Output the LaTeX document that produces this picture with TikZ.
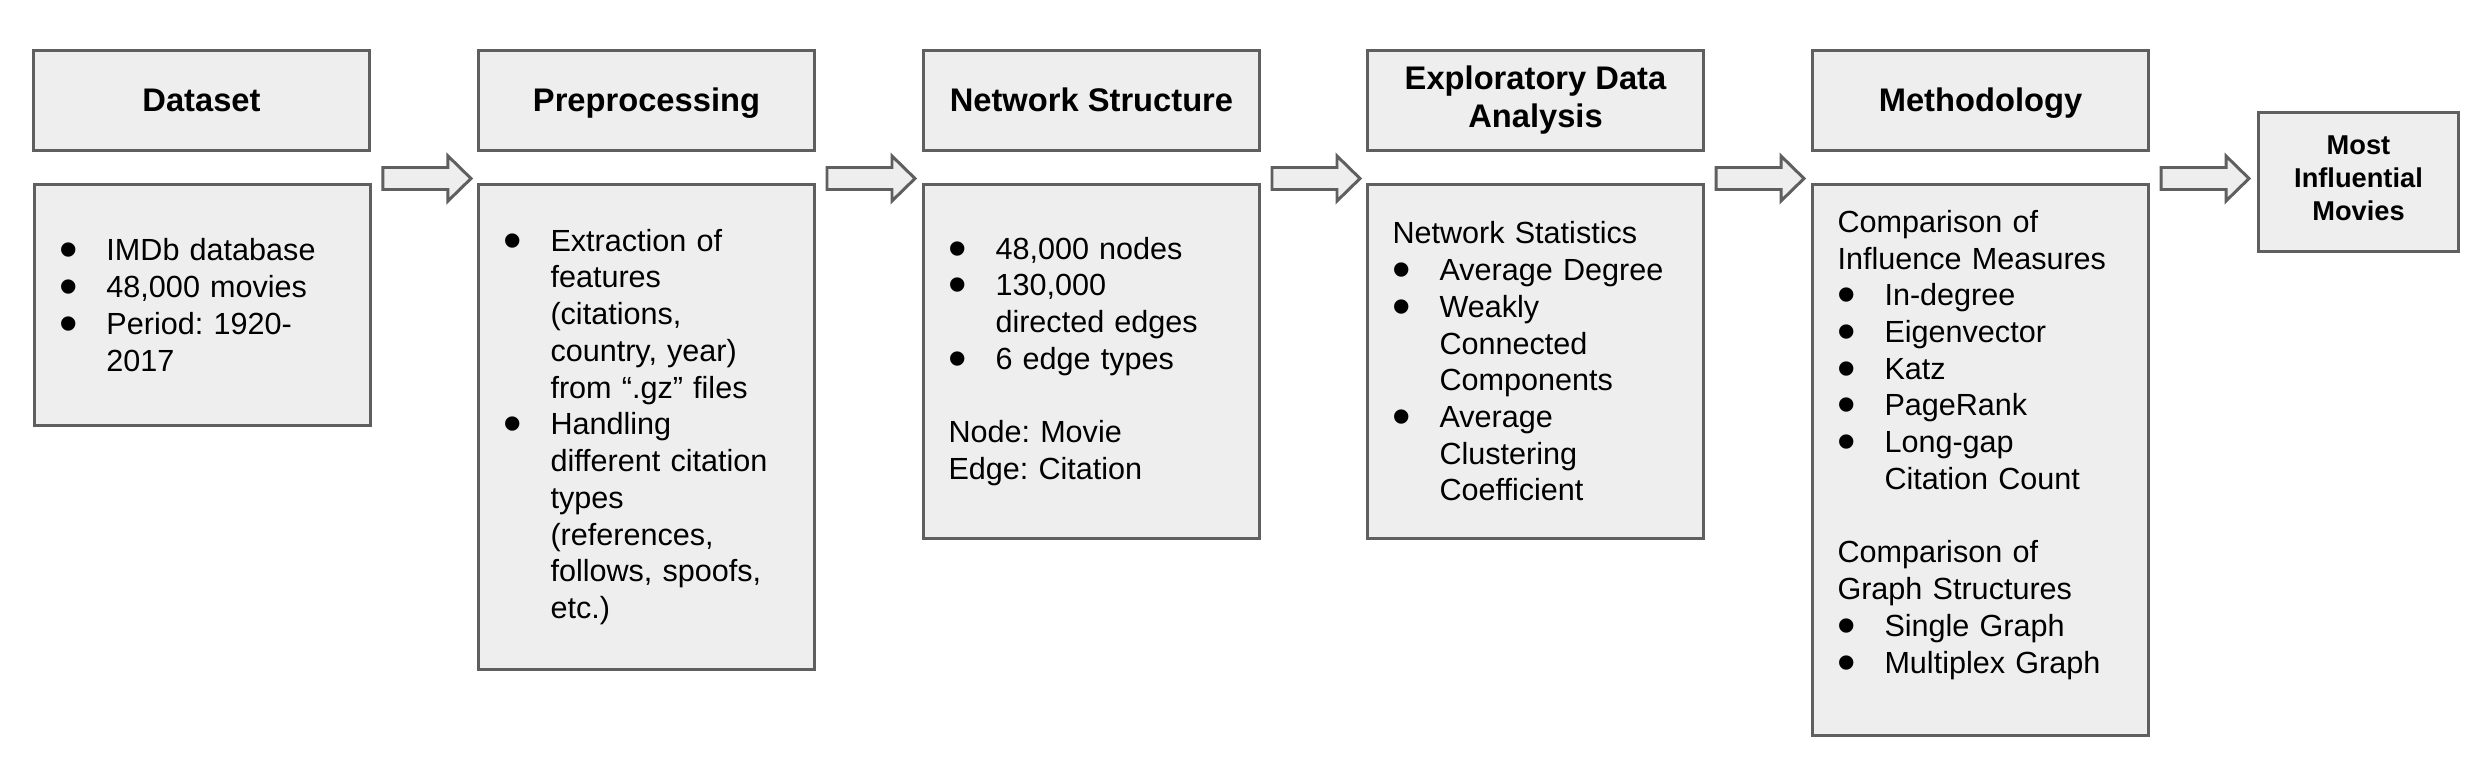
\documentclass[tikz,border=0pt]{standalone}
\usepackage{fontspec}
\setmainfont{Liberation Sans}
\usetikzlibrary{calc}
\frenchspacing
\definecolor{boxfill}{HTML}{EEEEEE}
\definecolor{boxline}{HTML}{5F5F5F}
\newcommand\bul{\makebox[0.47cm][l]{\smash{\raisebox{-0.07cm}{\fontsize{15pt}{15pt}\selectfont •}}}}
\newcommand\ind{\hspace*{0.47cm}}
\def\blockarrow(#1){\draw[arrowbox] ($(#1.north east)+(0.11,0.045)$) ++(0,0.11) -- ++(0.65,0) -- ++(0,0.115) -- ++(0.23,-0.225) -- ++(-0.23,-0.225) -- ++(0,0.115) -- ++(-0.65,0) -- cycle;}

\begin{document}
\begin{tikzpicture}[
	head/.style={draw=boxline, fill=boxfill, line width=0.85pt, anchor=north west, minimum width=3.36cm, minimum height=1.00cm, inner sep=0pt, align=center, font=\bfseries\fontsize{9.3pt}{10.8pt}\selectfont, execute at begin node={\rule[-0.25em]{0pt}{1.2em}}},
	body/.style={draw=boxline, fill=boxfill, line width=0.85pt, anchor=north west, text width=2.86cm, inner xsep=0.25cm, inner ysep=0pt, align=left, font=\fontsize{8.7pt}{10.45pt}\selectfont},
	arrowbox/.style={draw=boxline, fill=boxfill, line width=0.85pt, line join=miter}]
		%%%%% START %%%%%
		\useasboundingbox (0,0) rectangle (24.88,-7.74);
		
		\node[head] (dsH) at (0.32,-0.49) {Dataset};
		\node[head] (ppH) at (4.77,-0.49) {Preprocessing};
		\node[head] (nsH) at (9.22,-0.49) {Network Structure};
		\node[head] (edaH) at (13.66,-0.49) {Exploratory Data\\Analysis};
		\node[head] (mtH) at (18.11,-0.49) {Methodology};
		
		\node[body, minimum height=2.41cm] (dsB) at (0.33,-1.83) {\bul IMDb database\\ \bul 48,000 movies\\ \bul Period: 1920-\\ \ind 2017};
		\node[body, minimum height=4.85cm] (ppB) at (4.77,-1.83) {\bul Extraction of\\ \ind features\\ \ind (citations,\\ \ind country, year)\\ \ind from “.gz” files\\ \bul Handling\\ \ind different citation\\ \ind types\\ \ind (references,\\ \ind follows, spoofs,\\ \ind etc.)};
		\node[body, minimum height=3.54cm] (nsB) at (9.22,-1.83) {\bul 48,000 nodes\\ \bul 130,000\\ \ind directed edges\\ \bul 6 edge types\\ ~\\ Node: Movie\\ Edge: Citation};
		\node[body, minimum height=3.54cm] (edaB) at (13.66,-1.83) {Network Statistics\\ \bul Average Degree\\ \bul Weakly\\ \ind Connected\\ \ind Components\\ \bul Average\\ \ind Clustering\\ \ind Coefficient};
		\node[body, minimum height=5.51cm] (mtB) at (18.11,-1.83) {Comparison of\\ Influence Measures\\ \bul In-degree\\ \bul Eigenvector\\ \bul Katz\\ \bul PageRank\\ \bul Long-gap\\ \ind Citation Count\\ ~\\ Comparison of\\ Graph Structures\\ \bul Single Graph\\ \bul Multiplex Graph\\ ~};
		
		\node[head, minimum width=2.00cm, minimum height=1.39cm, font=\bfseries\fontsize{7.75pt}{9.4pt}\selectfont, execute at begin node={}] (infl) at (22.57,-1.11) {Most\\Influential\\Movies};
		
		\blockarrow(dsB)
		\blockarrow(ppB)
		\blockarrow(nsB)
		\blockarrow(edaB)
		\blockarrow(mtB)
		
		%%%%% END %%%%%
\end{tikzpicture}
\end{document}
